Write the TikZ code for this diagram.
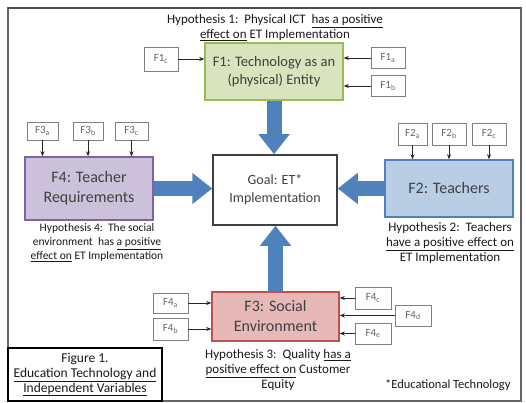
\documentclass[tikz,border=0pt]{standalone}
\usepackage{fontspec}
\setmainfont{Carlito}
\usetikzlibrary{arrows.meta}
\definecolor{fgreen}{HTML}{D7E4BD}
\definecolor{fgreenline}{HTML}{9BBB59}
\definecolor{fpurple}{HTML}{CCC1DA}
\definecolor{fpurpleline}{HTML}{8064A2}
\definecolor{fblue}{HTML}{B9CDE5}
\definecolor{fblueline}{HTML}{4F81BD}
\definecolor{fred}{HTML}{E6B9B8}
\definecolor{fredline}{HTML}{C0504D}
\definecolor{fatblue}{HTML}{4F81BD}
\begin{document}
\begin{tikzpicture}[x=1pt, y=-1pt,
	factor/.style={draw, line width=1.5pt, align=center, text=black!75, inner sep=2pt},
	subbox/.style={draw=black!50, fill=white, text=black!60, font=\fontsize{11}{13}\selectfont, line width=0.8pt, minimum height=21pt, inner sep=0pt},
	link/.style={-{Stealth[length=5pt,width=4pt]}, line width=0.7pt, black!85},
	fat/.style={line width=15pt, fatblue, -{Triangle[width=30pt,length=20pt]}},
	hyp/.style={align=center, font=\fontsize{13}{14.8}\selectfont, text=black!90}]
	\useasboundingbox (0,0) rectangle (526,403);
	\draw[black!60, line width=1.2pt] (8,8) rectangle (521,401);
	\draw[black!70, line width=2pt] (8,8) -- (521,8);
	\node[factor, draw=black!75, minimum width=124pt, minimum height=70pt, font=\fontsize{14}{18}\selectfont] (goal) at (275,190) {Goal: ET*\\Implementation};
	\node[factor, draw=fgreenline, fill=fgreen, minimum width=138pt, minimum height=57pt, font=\fontsize{14.5}{18}\selectfont] (f1) at (274,71.5) {F1: Technology as an\\(physical) Entity};
	\node[factor, draw=fpurpleline, fill=fpurple, minimum width=128pt, minimum height=63pt, font=\fontsize{16}{20}\selectfont] (f4) at (89,188.5) {F4: Teacher\\Requirements};
	\node[factor, draw=fblueline, fill=fblue, minimum width=128pt, minimum height=57pt, font=\fontsize{16}{20}\selectfont] (f2) at (449,188.5) {F2: Teachers};
	\node[factor, draw=fredline, fill=fred, minimum width=127pt, minimum height=49pt, font=\fontsize{16}{20}\selectfont] (f3) at (275.5,316.5) {F3: Social\\Environment};
	\node[subbox, minimum width=34pt, minimum height=24pt] (f1c) at (161,59) {F1\textsubscript{c}};
	\node[subbox, minimum width=34pt] (f1a) at (388,58) {F1\textsubscript{a}};
	\node[subbox, minimum width=34pt] (f1b) at (388,86) {F1\textsubscript{b}};
	\node[subbox, minimum width=31pt, minimum height=18pt] (f3a) at (42.5,131) {F3\textsubscript{a}};
	\node[subbox, minimum width=30pt, minimum height=18pt] (f3b) at (88,131) {F3\textsubscript{b}};
	\node[subbox, minimum width=33pt, minimum height=18pt] (f3c) at (131.5,131) {F3\textsubscript{c}};
	\node[subbox, minimum width=29pt, minimum height=22pt] (f2a) at (412.5,134) {F2\textsubscript{a}};
	\node[subbox, minimum width=34pt, minimum height=22pt] (f2b) at (449,134) {F2\textsubscript{b}};
	\node[subbox, minimum width=34pt, minimum height=22pt] (f2c) at (489,134) {F2\textsubscript{c}};
	\node[subbox, minimum width=35pt, minimum height=20pt] (f4a) at (170.5,303) {F4\textsubscript{a}};
	\node[subbox, minimum width=35pt, minimum height=22pt] (f4b) at (170.5,329) {F4\textsubscript{b}};
	\node[subbox, minimum width=36pt, minimum height=22pt] (f4c) at (373,298) {F4\textsubscript{c}};
	\node[subbox, minimum width=36pt] (f4d) at (413,315.5) {F4\textsubscript{d}};
	\node[subbox, minimum width=36pt] (f4e) at (373,333.5) {F4\textsubscript{e}};
	\draw[link] (f1c.east) -- (f1c.east -| f1.west);
	\draw[link] (f1a.west) -- (f1a.west -| f1.east);
	\draw[link] (f1b.west) -- (f1b.west -| f1.east);
	\foreach \s in {f3a, f3b, f3c}
		\draw[link] (\s.south) -- (\s.south |- f4.north);
	\foreach \s in {f2a, f2b, f2c}
		\draw[link] (\s.south) -- (\s.south |- f2.north);
	\foreach \s in {f4a, f4b}
		\draw[link] (\s.east) -- (\s.east -| f3.west);
	\foreach \s in {f4c, f4d, f4e}
		\draw[link] (\s.west) -- (\s.west -| f3.east);
	\draw[fat] (f1.south) -- (f1.south |- goal.north);
	\draw[fat] (f4.east) -- (f4.east -| goal.west);
	\draw[fat] (f2.west) -- (f2.west -| goal.east);
	\draw[fat] (f3.north) -- (f3.north |- goal.south);
	\node[hyp] (hyp1) at (275,27.5) {Hypothesis 1:\ \ Physical ICT\ \ \underline{has a positive}\\\underline{effect on} ET Implementation};
	\node[hyp, font=\fontsize{11.5}{14}\selectfont] (hyp4) at (97,243) {Hypothesis 4:\ \ The social\\environment\ \ has \underline{a positive}\\\underline{effect on} ET Implementation};
	\node[hyp] (hyp2) at (450,243) {Hypothesis 2:\ \ Teachers\\\underline{have a positive effect on}\\ET Implementation};
	\node[hyp] (hyp3) at (278,370) {Hypothesis 3:\ \ Quality \underline{has a}\\\underline{positive effect on} Customer\\Equity};
	\node[hyp, draw=black, line width=1.5pt, minimum width=154pt, minimum height=53pt, inner sep=0pt, font=\fontsize{13.5}{15}\selectfont] (fig) at (85,374.5) {Figure 1.\\\underline{Education Technology and}\\\underline{Independent Variables}};
	\node[hyp, anchor=east, font=\fontsize{12.5}{14}\selectfont] (note) at (514,385) {*Educational Technology};
\end{tikzpicture}
\end{document}
